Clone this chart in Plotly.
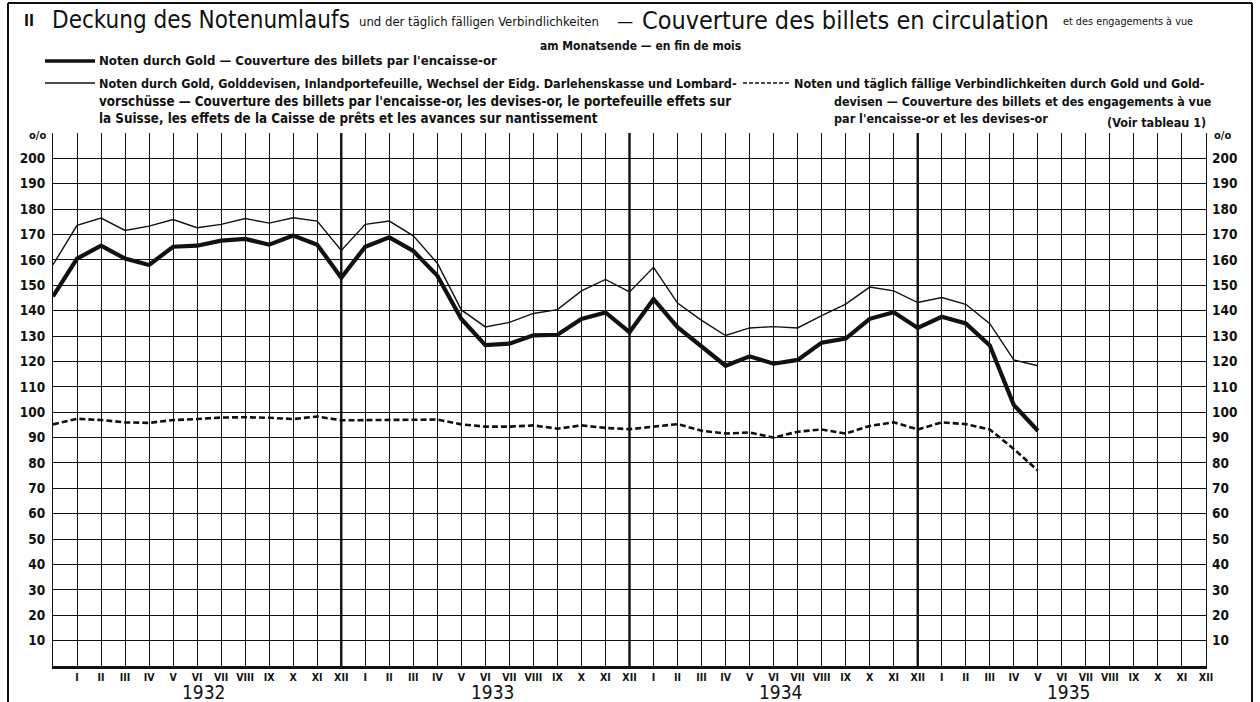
import plotly.graph_objects as go

# ---------------- data (month-end values, XII 1931 .. V 1935) ----------------
years = [1932, 1933, 1934, 1935]
roman = ["I", "II", "III", "IV", "V", "VI", "VII", "VIII", "IX", "X", "XI", "XII"]

gold = [145.6, 160.5, 165.6, 160.5, 158.0, 165.2, 165.6, 167.6, 168.3, 166.0, 169.6, 166.0,
        153.0, 165.2, 168.9, 163.5, 153.8, 136.7, 126.4, 127.0, 130.3, 130.5, 136.7, 139.3,
        131.5, 144.5, 133.5, 125.8, 118.3, 122.0, 119.1, 120.6, 127.4, 129.0, 136.8, 139.4,
        133.2, 137.6, 135.0, 126.3, 102.8, 92.7]

gold_all = [158.1, 173.6, 176.5, 171.6, 173.3, 175.9, 172.7, 174.0, 176.3, 174.5, 176.6, 175.3,
            163.7, 174.0, 175.3, 169.5, 158.7, 140.3, 133.6, 135.4, 138.9, 140.4, 147.8, 152.3,
            147.4, 157.1, 143.0, 136.2, 130.2, 133.2, 133.7, 133.2, 138.0, 142.6, 149.3, 147.8,
            143.2, 145.2, 142.5, 134.9, 120.6, 118.3]

notes_liab = [95.2, 97.4, 96.9, 96.0, 95.8, 96.9, 97.3, 97.9, 98.0, 97.8, 97.3, 98.3,
              96.8, 96.9, 96.9, 96.9, 97.1, 95.2, 94.3, 94.3, 94.8, 93.5, 94.8, 93.8,
              93.3, 94.3, 95.3, 92.7, 91.6, 92.0, 90.0, 92.3, 93.2, 91.6, 94.6, 96.0,
              93.2, 96.0, 95.3, 93.2, 85.5, 77.0]

# month positions: 0 = end of XII 1931, 1 = end of I 1932, ...
x_pos = list(range(len(gold)))
n_months = 12 * len(years)
tick_vals = list(range(1, n_months + 1))
tick_text = roman * len(years)
y_ticks = list(range(10, 201, 10))

# ---------------- layout geometry ----------------
W, H = 1260, 702
L, R, T, B = 53, 54, 133, 36
PW, PH = W - L - R, H - T - B

def px(xp):
    return (xp - L) / PW

def py(yp):
    return (H - B - yp) / PH

FONT = "DejaVu Sans Condensed, Liberation Sans Narrow, Arial Narrow, DejaVu Sans, sans-serif"
INK = "#111111"

fig = go.Figure()

fig.add_trace(go.Scatter(x=x_pos, y=gold_all, mode="lines",
                         line=dict(color=INK, width=1.4), showlegend=False, hoverinfo="skip"))
fig.add_trace(go.Scatter(x=x_pos, y=gold, mode="lines",
                         line=dict(color=INK, width=4.2), showlegend=False, hoverinfo="skip"))
fig.add_trace(go.Scatter(x=x_pos, y=notes_liab, mode="lines",
                         line=dict(color=INK, width=2.6, dash="6px,3px"),
                         showlegend=False, hoverinfo="skip"))
# carrier for the right-hand axis
fig.add_trace(go.Scatter(x=[x_pos[0]], y=[notes_liab[0]], yaxis="y2", mode="markers",
                         marker=dict(opacity=0), showlegend=False, hoverinfo="skip"))

shapes = []
# thicker year-boundary lines
for k in range(1, len(years)):
    shapes.append(dict(type="line", xref="x", yref="paper", x0=12 * k, x1=12 * k, y0=0, y1=1,
                       line=dict(color=INK, width=2.4), layer="above"))
# outer frame
shapes.append(dict(type="line", xref="paper", yref="paper", x0=px(8), x1=px(8), y0=py(702), y1=py(3),
                   line=dict(color=INK, width=2)))
shapes.append(dict(type="line", xref="paper", yref="paper", x0=px(8), x1=px(1252), y0=py(3), y1=py(3),
                   line=dict(color=INK, width=2)))
shapes.append(dict(type="line", xref="paper", yref="paper", x0=px(1252), x1=px(1252), y0=py(3), y1=py(702),
                   line=dict(color=INK, width=2)))
# legend samples
shapes.append(dict(type="line", xref="paper", yref="paper", x0=px(45), x1=px(95), y0=py(61), y1=py(61),
                   line=dict(color=INK, width=3.5)))
shapes.append(dict(type="line", xref="paper", yref="paper", x0=px(45), x1=px(95), y0=py(83), y1=py(83),
                   line=dict(color=INK, width=1.3)))
shapes.append(dict(type="line", xref="paper", yref="paper", x0=px(743), x1=px(790), y0=py(83), y1=py(83),
                   line=dict(color=INK, width=1.6, dash="4px,2px")))

ann = []
def text(x, y, s, size=12, anchor="left", yanchor="middle", weight="normal"):
    ann.append(dict(x=px(x), y=py(y), xref="paper", yref="paper", text=s, showarrow=False,
                    xanchor=anchor, yanchor=yanchor,
                    font=dict(family=FONT, size=size, color=INK, weight=weight)))

text(22, 21, "II", size=15, weight="bold")
text(50, 20, "Deckung des Notenumlaufs", size=24)
text(357, 22, "und der täglich fälligen Verbindlichkeiten", size=13)
text(615, 20, "—", size=18)
text(640, 20, "Couverture des billets en circulation", size=25)
text(1061, 22, "et des engagements à vue", size=10.8)
text(640, 46, "am Monatsende — en fin de mois", size=12, anchor="center", weight="bold")

text(97, 61, "Noten durch Gold — Couverture des billets par l'encaisse-or", size=13.1, weight="bold")
text(97, 83, "Noten durch Gold, Golddevisen, Inlandportefeuille, Wechsel der Eidg. Darlehenskasse und Lombard-", size=12.5, weight="bold")
text(97, 101, "vorschüsse — Couverture des billets par l'encaisse-or, les devises-or, le portefeuille effets sur", size=13.3, weight="bold")
text(97, 119, "la Suisse, les effets de la Caisse de prêts et les avances sur nantissement", size=13.3, weight="bold")

text(792, 83, "Noten und täglich fällige Verbindlichkeiten durch Gold und Gold-", size=12.5, weight="bold")
text(832, 101, "devisen — Couverture des billets et des engagements à vue", size=12.4, weight="bold")
text(832, 118, "par l'encaisse-or et les devises-or", size=12.5, weight="bold")
text(1208, 123, "(Voir tableau 1)", size=12.5, anchor="right", weight="bold")

text(37, 135, "o/o", size=11, anchor="center", weight="bold")
text(1222, 135, "o/o", size=11, anchor="center", weight="bold")

for k, yr in enumerate(years):
    ann.append(dict(x=12 * k + 6.3, y=py(692), xref="x", yref="paper", text=str(yr), showarrow=False,
                    xanchor="center", yanchor="middle",
                    font=dict(family=FONT, size=19, color=INK)))

fig.update_layout(
    width=W, height=H,
    margin=dict(l=L, r=R, t=T, b=B, autoexpand=False),
    paper_bgcolor="white", plot_bgcolor="white",
    shapes=shapes, annotations=ann,
    xaxis=dict(range=[0, n_months], tickvals=tick_vals, ticktext=tick_text, tickangle=0,
               showgrid=True, gridcolor=INK, gridwidth=1.3, zeroline=False,
               showline=True, linecolor=INK, linewidth=2.6,
               ticks="", ticklabelstandoff=0,
               tickfont=dict(family=FONT, size=10.5, color=INK, weight="bold"), fixedrange=True),
    yaxis=dict(range=[0, 210], tickvals=y_ticks + [210], ticktext=[str(v) for v in y_ticks] + [""],
               showgrid=True, gridcolor=INK, gridwidth=1.2, zeroline=False,
               showline=True, linecolor=INK, linewidth=1.3, mirror=True,
               ticks="", ticklabelstandoff=4,
               tickfont=dict(family=FONT, size=13.5, color=INK, weight="bold"), fixedrange=True),
    yaxis2=dict(range=[0, 210], overlaying="y", side="right", tickvals=y_ticks,
                showgrid=False, zeroline=False, showline=False, ticks="", ticklabelstandoff=5,
                tickfont=dict(family=FONT, size=13.5, color=INK, weight="bold"), fixedrange=True),
)

fig.write_html("out.html", config={"displayModeBar": False},
               post_script="document.body.style.margin='0px';")
